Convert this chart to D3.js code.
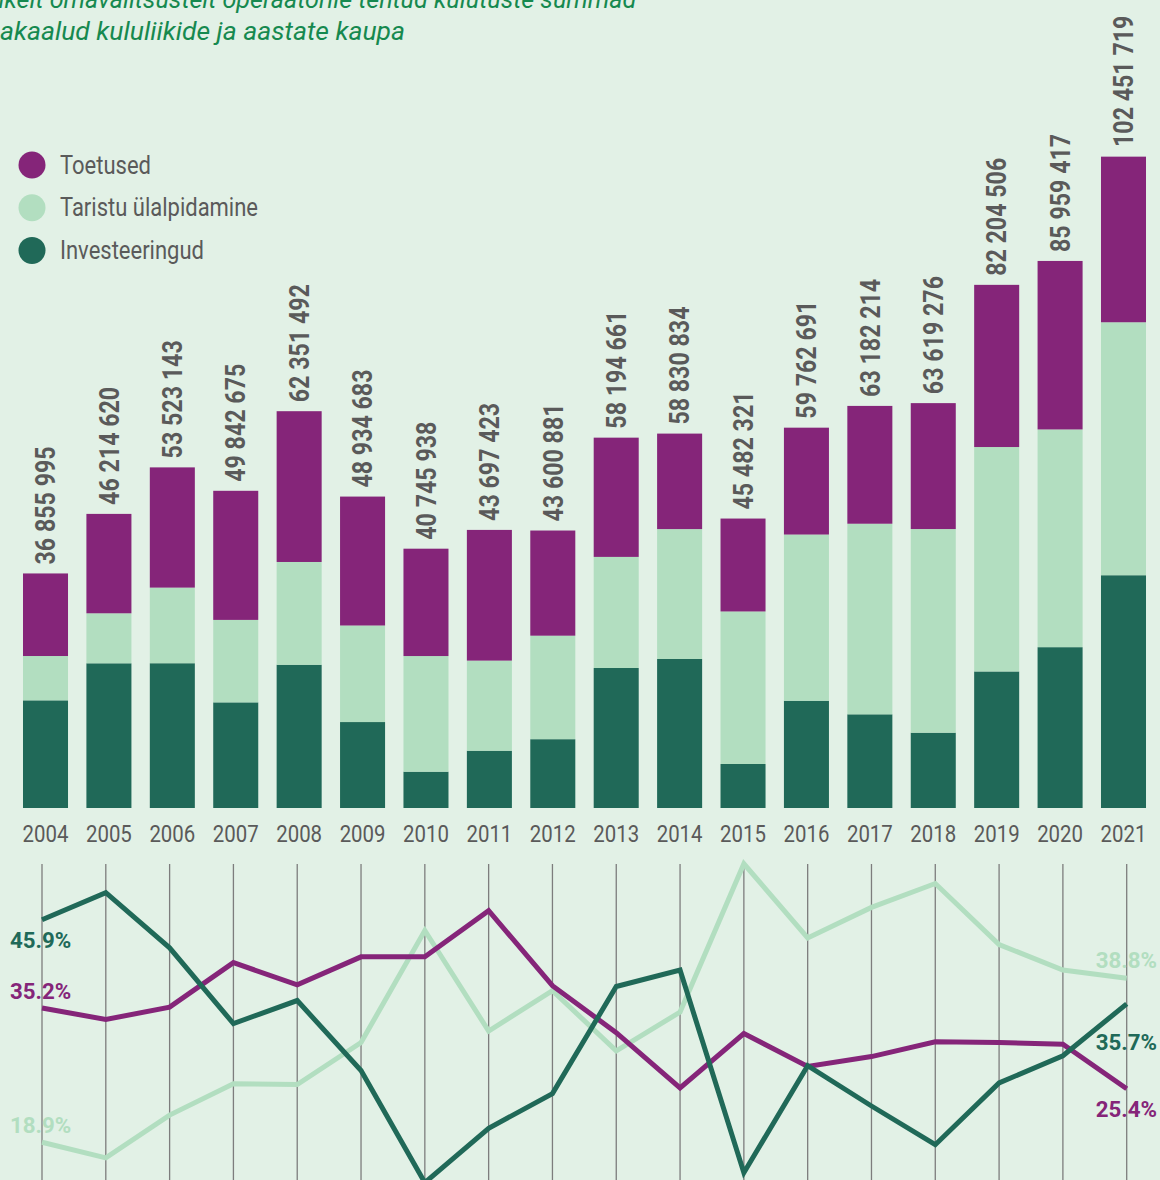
<!DOCTYPE html>
<html>
<head>
<meta charset="utf-8">
<script src="https://cdn.jsdelivr.net/npm/d3@7"></script>
<style>
  html, body { margin: 0; padding: 0; background: #e2f1e6; }
  svg { display: block; }
  text { font-family: Roboto, "Noto Sans", sans-serif; }
</style>
</head>
<body>
<svg id="chart" width="1160" height="1180"></svg>
<script>
// ---------------- DATA ----------------
const years = ["2004","2005","2006","2007","2008","2009","2010","2011","2012","2013","2014","2015","2016","2017","2018","2019","2020","2021"];
const totals = [36855995, 46214620, 53523143, 49842675, 62351492, 48934683, 40745938, 43697423, 43600881, 58194661, 58830834, 45482321, 59762691, 63182214, 63619276, 82204506, 85959417, 102451719];
// shares of each cost type in the yearly total, %
const investeeringud = [45.9, 49.2, 42.5, 33.3, 36.1, 27.6, 14.0, 20.6, 24.8, 37.8, 39.8, 15.2, 28.2, 23.3, 18.6, 26.1, 29.4, 35.7];
const taristu       = [18.9, 17.0, 22.2, 26.0, 25.9, 31.0, 44.6, 32.4, 37.3, 30.0, 34.7, 52.7, 43.7, 47.4, 50.3, 42.9, 39.8, 38.8];
const toetused      = [35.2, 33.8, 35.3, 40.7, 38.0, 41.4, 41.4, 47.0, 37.9, 32.2, 25.5, 32.1, 28.1, 29.3, 31.1, 31.0, 30.8, 25.4];
const seriesNames = ["Toetused", "Taristu ülalpidamine", "Investeeringud"];
const titleLines = ["Kohalikelt omavalitsustelt operaatorile tehtud kulutuste summad", "osakaalud kululiikide ja aastate kaupa"];

// ---------------- STYLE ----------------
const C_PURPLE = "#852579", C_LIGHT = "#b2dec0", C_DARK = "#206958", C_TEXT = "#5a5a5a", C_TITLE = "#16894f";
const SX = 0.87; // condensed look

const svg = d3.select("#chart");

function ctext(parent, x, y, str, opts) {
  const g = parent.append("g").attr("transform", `translate(${x},${y})` + (opts.rotate ? ` rotate(${opts.rotate})` : ""));
  const t = g.append("text")
    .attr("transform", `scale(${opts.sx || SX},1)`)
    .attr("text-anchor", opts.anchor || "start")
    .attr("font-size", opts.size)
    .attr("font-weight", opts.weight || 400)
    .attr("font-style", opts.style || "normal")
    .attr("fill", opts.fill || C_TEXT)
    .text(str);
  if (opts.dy) t.attr("dy", opts.dy);
  return t;
}

// ---------------- TITLE ----------------
ctext(svg, -63, 8, titleLines[0], {size: 26.5, style: "italic", fill: C_TITLE, sx: 0.95});
ctext(svg, -28, 40, titleLines[1], {size: 26.5, style: "italic", fill: C_TITLE, sx: 1});

// ---------------- BAR CHART ----------------
const x = d3.scaleBand().domain(years).range([13.8, 1155.2]).paddingInner(0.29).paddingOuter(0.145);
const y = d3.scaleLinear().domain([0, 100e6]).range([808, 171.6]);

const rows = years.map((yr, i) => ({
  year: yr,
  inv: totals[i] * investeeringud[i] / 100,
  tar: totals[i] * taristu[i] / 100,
  toe: totals[i] * toetused[i] / 100
}));
const stack = d3.stack().keys(["inv", "tar", "toe"])(rows);
const colors = {inv: C_DARK, tar: C_LIGHT, toe: C_PURPLE};

svg.append("g").selectAll("g").data(stack).join("g")
  .attr("fill", d => colors[d.key])
  .selectAll("rect").data(d => d).join("rect")
  .attr("x", d => x(d.data.year))
  .attr("width", x.bandwidth())
  .attr("y", d => y(d[1]))
  .attr("height", d => y(d[0]) - y(d[1]));

// value labels (rotated)
const fmt = v => d3.format(",")(v).replace(/,/g, " ");
years.forEach((yr, i) => {
  ctext(svg, x(yr) + x.bandwidth() / 2, y(totals[i]) - 9, fmt(totals[i]),
    {size: 27, weight: 700, rotate: -90, dy: "0.36em", sx: 0.86});
});

// x axis (year labels)
const xAxis = d3.axisBottom(x).tickSize(0).tickPadding(0);
const axG = svg.append("g").attr("transform", "translate(0,842)").call(xAxis);
axG.select(".domain").remove();
axG.selectAll(".tick text").remove();
axG.selectAll(".tick").each(function(d) {
  ctext(d3.select(this), 0, 0, d, {size: 24, anchor: "middle", sx: 0.85});
});

// ---------------- LEGEND ----------------
const legColors = [C_PURPLE, C_LIGHT, C_DARK];
const leg = svg.append("g");
seriesNames.forEach((n, i) => {
  const cy = 165 + i * 42.7;
  leg.append("circle").attr("cx", 32).attr("cy", cy).attr("r", 13.5).attr("fill", legColors[i]);
  ctext(leg, 60, cy + 8.5, n, {size: 25, sx: 0.88});
});

// ---------------- LINE CHART (shares) ----------------
const xl = d3.scalePoint().domain(years).range([42, 1126.7]);
const yl = d3.scaleLinear().domain([0, 60]).range([1298, 803.6]);

svg.append("g").selectAll("line").data(years).join("line")
  .attr("x1", d => xl(d)).attr("x2", d => xl(d))
  .attr("y1", 864).attr("y2", 1180)
  .attr("stroke", "#7d7d7d").attr("stroke-width", 1.3);

const line = d3.line().x((d, i) => xl(years[i])).y(d => yl(d));
const lineSeries = [
  {vals: taristu, color: C_LIGHT},
  {vals: toetused, color: C_PURPLE},
  {vals: investeeringud, color: C_DARK}
];
svg.append("g").selectAll("path").data(lineSeries).join("path")
  .attr("d", d => line(d.vals))
  .attr("fill", "none")
  .attr("stroke", d => d.color)
  .attr("stroke-width", 5)
  .attr("stroke-linejoin", "miter");

// end labels
const pct = v => v.toFixed(1) + "%";
const last = years.length - 1;
const lab = svg.append("g");
const LS = 0.97;
ctext(lab, 10, 948, pct(investeeringud[0]), {size: 23, weight: 700, fill: C_DARK, sx: LS});
ctext(lab, 10, 999, pct(toetused[0]), {size: 23, weight: 700, fill: C_PURPLE, sx: LS});
ctext(lab, 10, 1133, pct(taristu[0]), {size: 23, weight: 700, fill: C_LIGHT, sx: LS});
ctext(lab, 1157, 968, pct(taristu[last]), {size: 23, weight: 700, fill: C_LIGHT, anchor: "end", sx: LS});
ctext(lab, 1157, 1050, pct(investeeringud[last]), {size: 23, weight: 700, fill: C_DARK, anchor: "end", sx: LS});
ctext(lab, 1157, 1117, pct(toetused[last]), {size: 23, weight: 700, fill: C_PURPLE, anchor: "end", sx: LS});
</script>
</body>
</html>
